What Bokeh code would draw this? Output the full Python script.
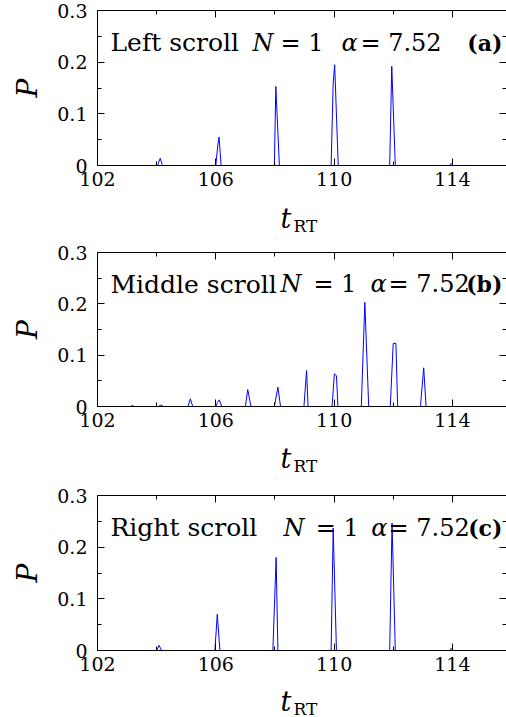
from bokeh.plotting import figure
from bokeh.layouts import column
from bokeh.models import Range1d, LinearAxis, FixedTicker, Label
from bokeh.core.properties import value
from bokeh.embed import file_html
from bokeh.resources import INLINE

# ---- data ----
x_left = [102.0, 104.03, 104.12, 104.2, 106.0, 106.07, 106.11, 106.18, 107.98, 108.03, 108.15,
          109.9, 109.97, 110.02, 110.14, 111.88, 111.95, 112.07, 113.9, 113.96, 114.02, 115.0]
p_left = [0, 0, 0.014, 0, 0, 0.04, 0.055, 0, 0, 0.153, 0,
          0, 0.16, 0.195, 0, 0, 0.192, 0, 0, 0.004, 0, 0]

x_middle = [102.0, 103.12, 103.18, 103.24, 104.06, 104.14, 104.22, 105.06, 105.14, 105.22,
            106.0, 106.06, 106.12, 106.2, 107.0, 107.08, 107.19, 107.98, 108.1, 108.19,
            108.98, 109.07, 109.12, 109.93, 110.01, 110.08, 110.13, 110.92, 111.04, 111.17,
            111.9, 112.0, 112.09, 112.15, 112.92, 113.03, 113.11, 115.0]
p_middle = [0, 0, 0.002, 0, 0, 0.003, 0, 0, 0.015, 0,
            0, 0.008, 0.013, 0, 0, 0.033, 0, 0, 0.0376, 0,
            0, 0.070, 0, 0, 0.0636, 0.060, 0, 0, 0.203, 0,
            0, 0.123, 0.123, 0, 0, 0.0754, 0, 0]

x_right = [102.0, 104.0, 104.08, 104.17, 105.97, 106.05, 106.14, 107.93, 108.04, 108.1,
           109.9, 109.97, 110.08, 111.88, 111.96, 112.07, 113.9, 113.96, 114.02, 115.0]
p_right = [0, 0, 0.01, 0, 0, 0.070, 0, 0, 0.18, 0,
           0, 0.237, 0, 0, 0.2466, 0, 0, 0.004, 0, 0]

x_ticks = [102, 106, 110, 114]
x_minor = [104, 108, 112, 116]
y_ticks = [0, 0.1, 0.2, 0.3]
y_minor = [0.05, 0.15, 0.25]
y_labels = {0: "0", 0.1: "0.1", 0.2: "0.2", 0.3: "0.3"}

titles = ["Left scroll", "Middle scroll", "Right scroll"]
tags = ["(a)", "(b)", "(c)"]
n_text = "= 1"
alpha_text = "= 7.52"
x_label = "t"
x_label_sub = "RT"
y_label = "P"

FONT = "DejaVu Serif"
X_END = 115.83


def make_panel(xs, ys, title, tag, frame_h, n_x, eq1_x, al_x, eq2_x):
    bottom = 30
    p = figure(width=506, height=10 + frame_h + bottom, output_backend="svg",
               toolbar_location=None,
               x_range=Range1d(102, X_END), y_range=Range1d(0, 0.3),
               min_border_left=97, min_border_right=0, min_border_top=10,
               min_border_bottom=bottom, background_fill_color="white",
               border_fill_color="white")
    p.outline_line_color = None
    p.grid.visible = False

    xt = FixedTicker(ticks=x_ticks, minor_ticks=x_minor)
    yt = FixedTicker(ticks=y_ticks, minor_ticks=y_minor)

    below = p.below[0]
    left = p.left[0]
    below.ticker = xt
    left.ticker = yt
    top = LinearAxis(ticker=xt)
    right = LinearAxis(ticker=yt)
    p.add_layout(top, "above")
    p.add_layout(right, "right")

    for ax in [below, left, top, right]:
        ax.axis_line_color = "black"
        ax.axis_line_width = 1
        ax.major_tick_in = 7
        ax.major_tick_out = 0
        ax.minor_tick_in = 4
        ax.minor_tick_out = 0
        ax.major_tick_line_color = "black"
        ax.minor_tick_line_color = "black"
        ax.major_label_text_font = FONT
    for ax in [top, right]:
        ax.major_label_text_font_size = "1px"
        ax.major_label_text_color = None
        ax.major_label_standoff = 0
    right.axis_line_color = None

    below.major_label_text_font_size = "19px"
    below.major_label_text_color = "black"
    below.major_label_standoff = 6
    left.major_label_text_font_size = "19px"
    left.major_label_text_color = "black"
    left.major_label_standoff = 10
    left.major_label_overrides = y_labels
    left.axis_label = y_label
    left.axis_label_text_font = FONT
    left.axis_label_text_font_style = "italic"
    left.axis_label_text_font_size = "28px"
    left.axis_label_text_color = "black"
    left.axis_label_standoff = 10

    p.line(xs, ys, line_color="#0000ff", line_width=1)

    ty = 0.238
    specs = [
        (102.44, title, "normal", "25px", "left"),
        (n_x, "N", "italic", "24px", "left"),
        (eq1_x, n_text, "normal", "24px", "left"),
        (al_x, "α", "italic", "24px", "left"),
        (eq2_x, alpha_text, "normal", "24px", "left"),
        (115.69, tag, "bold", "22px", "right"),
    ]
    for x, t, style, size, align in specs:
        p.add_layout(Label(x=x, y=ty, text=t, text_font=FONT, text_font_style=style,
                           text_font_size=size, text_align=align,
                           text_baseline="alphabetic", text_color="black"))
    return p


def make_xlabel(panel, h, base_from_top):
    q = figure(width=506, height=h, output_backend="svg", toolbar_location=None,
               x_range=panel.x_range, y_range=Range1d(h, 0),
               x_axis_type=None, y_axis_type=None,
               min_border_left=97, min_border_right=0, min_border_top=0,
               min_border_bottom=0, background_fill_color="white",
               border_fill_color="white")
    q.outline_line_color = None
    q.grid.visible = False
    q.text(x=[108.19], y=[base_from_top], text=[x_label], text_font=value(FONT),
           text_font_style=value("italic"), text_font_size=value("27px"),
           text_baseline=value("alphabetic"), text_color="black")
    q.text(x=[108.63], y=[base_from_top + 7], text=[x_label_sub], text_font=value(FONT),
           text_font_size=value("17px"), text_baseline=value("alphabetic"),
           text_color="black")
    return q


pa = make_panel(x_left, p_left, titles[0], tags[0], 155, 107.24, 108.19, 110.25, 110.89)
la = make_xlabel(pa, 47, 23)
pb = make_panel(x_middle, p_middle, titles[1], tags[1], 154, 108.19, 109.3, 111.23, 111.84)
lb = make_xlabel(pb, 49, 22)
pc = make_panel(x_right, p_right, titles[2], tags[2], 155, 108.29, 109.38, 111.26, 111.84)
lc = make_xlabel(pc, 37, 21)

layout = column(pa, la, pb, lb, pc, lc, spacing=0)
open("out.html", "w").write(file_html(layout, INLINE))
